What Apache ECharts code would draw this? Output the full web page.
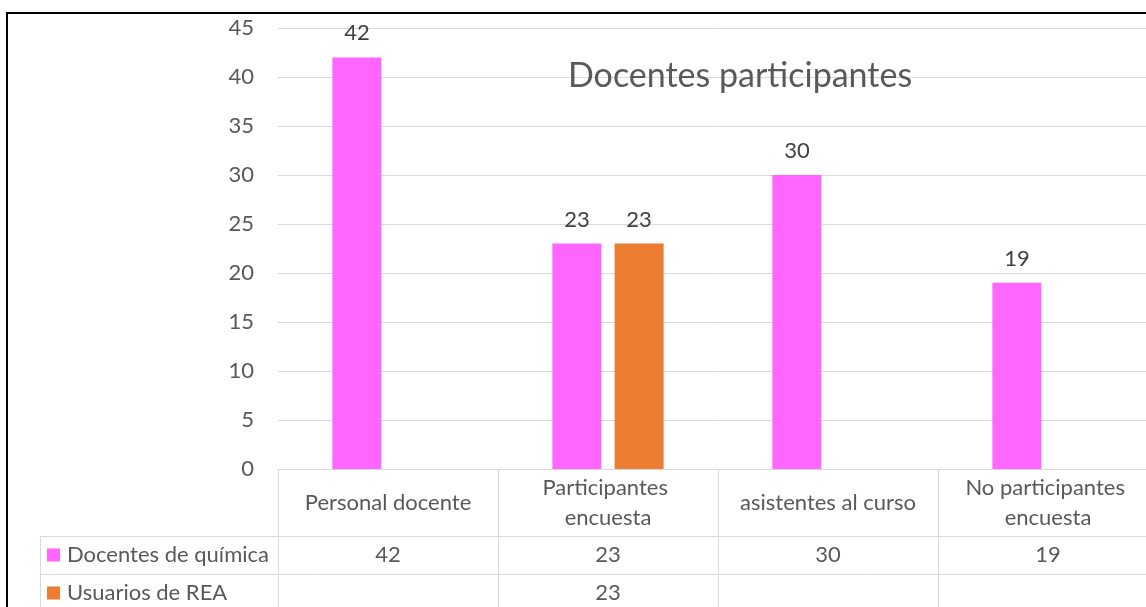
<!DOCTYPE html>
<html>
<head>
<meta charset="utf-8">
<script src="https://cdn.jsdelivr.net/npm/echarts@6/dist/echarts.min.js"></script>
<style>
  html, body { margin: 0; padding: 0; background: #fff; }
  #chart { width: 1146px; height: 607px; }
</style>
</head>
<body>
<div id="chart"></div>
<script>
// Chart data
const categories = ['Personal docente', 'Participantes encuesta', 'asistentes al curso', 'No participantes encuesta'];
const seriesNames = ['Docentes de química', 'Usuarios de REA'];
const docentesQuimica = [42, 23, 30, 19];
const usuariosREA = [null, 23, null, null];
const yTicks = { min: 0, max: 45, interval: 5 };
const titleText = 'Docentes participantes';

const colors = ['#FF66FF', '#ED7D31'];
const FONT = 'Lato';
const GRAY = '#595959';
const LINE = '#d9d9d9';
const FS = 22;

// Grid geometry (plot area), table row lines below it
const G = { left: 278, top: 28, width: 880, height: 441, outerBoundsMode: 'none' };
const rowTops = [536.5, 574.5, 612.5];
const rowCenters = [555, 593];

const chart = echarts.init(document.getElementById('chart'), null, { renderer: 'canvas' });

// One legend block per table row (key square + series name)
const legends = seriesNames.map(function (name, r) {
  return {
    orient: 'vertical',
    left: 47,
    top: rowCenters[r] - 11,
    padding: 0,
    itemWidth: 13,
    itemHeight: 13,
    icon: 'rect',
    selectedMode: false,
    data: [name],
    textStyle: { fontFamily: FONT, fontSize: FS, color: GRAY, padding: [0, 0, 0, 2] }
  };
});

const option = {
  animation: false,
  color: colors,
  title: {
    text: titleText,
    left: 563,
    top: 54,
    textStyle: { fontFamily: FONT, fontSize: 34, fontWeight: 'normal', color: GRAY }
  },
  legend: legends,
  grid: G,
  xAxis: {
    type: 'category',
    data: categories,
    axisLine: { lineStyle: { color: LINE, width: 1 } },
    axisTick: { show: true, length: 150, lineStyle: { color: LINE, width: 1 } },
    axisLabel: {
      interval: 0,
      margin: 34,
      width: 200,
      overflow: 'break',
      verticalAlign: 'middle',
      lineHeight: 30,
      fontFamily: FONT,
      fontSize: FS,
      color: GRAY
    },
    splitLine: { show: false }
  },
  yAxis: {
    type: 'value',
    min: yTicks.min,
    max: yTicks.max,
    interval: yTicks.interval,
    axisLine: { show: false },
    axisTick: { show: false },
    axisLabel: { margin: 24, fontFamily: FONT, fontSize: FS, color: GRAY },
    splitLine: { lineStyle: { color: LINE, width: 1 } }
  },
  series: [
    {
      name: seriesNames[0],
      type: 'bar',
      data: docentesQuimica,
      barWidth: 49,
      barGap: '27%',
      label: { show: true, position: 'top', distance: 13, fontFamily: FONT, fontSize: FS, color: '#404040' }
    },
    {
      name: seriesNames[1],
      type: 'bar',
      data: usuariosREA,
      barWidth: 49,
      barGap: '27%',
      label: { show: true, position: 'top', distance: 13, fontFamily: FONT, fontSize: FS, color: '#404040' }
    }
  ]
};

chart.setOption(option);

// Data table below the axis: row borders, left column edge, and cell values
const graphics = [];
rowTops.forEach(function (y) {
  graphics.push({
    type: 'line',
    shape: { x1: 40, y1: y, x2: 1146, y2: y },
    style: { stroke: LINE, lineWidth: 1 },
    silent: true
  });
});
graphics.push({
  type: 'line',
  shape: { x1: 40.5, y1: 536, x2: 40.5, y2: 620 },
  style: { stroke: LINE, lineWidth: 1 },
  silent: true
});
[docentesQuimica, usuariosREA].forEach(function (vals, r) {
  vals.forEach(function (v, i) {
    if (v === null || v === undefined) return;
    const x = chart.convertToPixel({ xAxisIndex: 0 }, i);
    graphics.push({
      type: 'text',
      x: x,
      y: rowCenters[r],
      style: {
        text: String(v),
        fontFamily: FONT,
        fontSize: FS,
        fill: GRAY,
        textAlign: 'center',
        textVerticalAlign: 'middle'
      },
      silent: true
    });
  });
});
// Outer chart border
graphics.push({
  type: 'rect',
  shape: { x: 7, y: 13, width: 1300, height: 700 },
  style: { fill: null, stroke: '#000', lineWidth: 2 },
  silent: true,
  z: 100
});

chart.setOption({ graphic: graphics });
</script>
</body>
</html>
